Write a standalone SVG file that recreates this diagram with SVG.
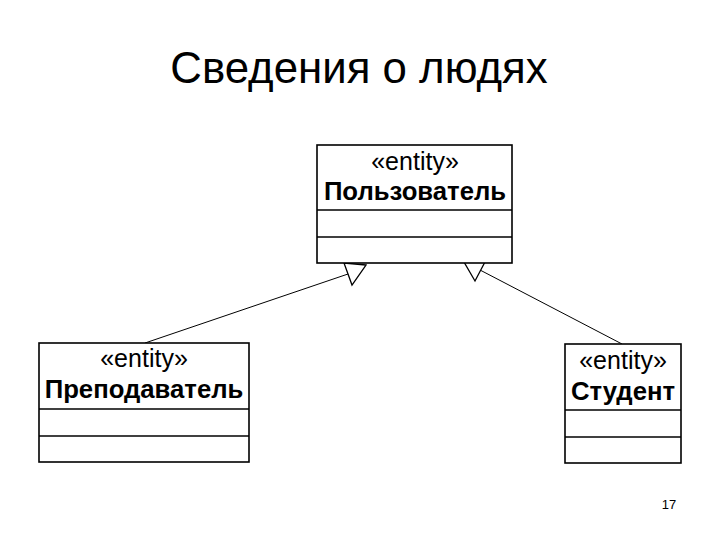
<svg xmlns="http://www.w3.org/2000/svg" width="720" height="540" viewBox="0 0 720 540">
<style>
.box{fill:#fff;stroke:#000;stroke-width:1.6}
.div{stroke:#000;stroke-width:1.6}
.st{font-family:"Liberation Sans",Arial,sans-serif;font-size:25px;text-anchor:middle}
.nm{font-family:"Liberation Sans",Arial,sans-serif;font-size:25.7px;font-weight:bold;text-anchor:middle}
.ln{stroke:#000;stroke-width:1;fill:none}
.hd{fill:#fff;stroke:#000;stroke-width:1.3}
</style>
<rect width="720" height="540" fill="#fff"/>
<text x="359" y="83" font-family="'Liberation Sans',Arial,sans-serif" font-size="43.8" text-anchor="middle">Сведения о людях</text>
<g id="connectors">
<line class="ln" x1="145" y1="343" x2="348" y2="274"/>
<polygon class="hd" points="366,265 344,263 352,285"/>
<line class="ln" x1="622" y1="344" x2="480" y2="270"/>
<polygon class="hd" points="464,262 486,260 475,281"/>
</g>
<g id="user">
<rect class="box" x="317" y="145" width="195" height="118"/>
<line class="div" x1="317" y1="210" x2="512" y2="210"/>
<line class="div" x1="317" y1="237" x2="512" y2="237"/>
<text class="st" x="415" y="170">«entity»</text>
<text class="nm" x="415" y="200">Пользователь</text>
</g>
<g id="teacher">
<rect class="box" x="39" y="343" width="210" height="119"/>
<line class="div" x1="39" y1="409" x2="249" y2="409"/>
<line class="div" x1="39" y1="436" x2="249" y2="436"/>
<text class="st" x="144" y="367">«entity»</text>
<text class="nm" x="144" y="398">Преподаватель</text>
</g>
<g id="student">
<rect class="box" x="565" y="344" width="116" height="119"/>
<line class="div" x1="565" y1="410" x2="681" y2="410"/>
<line class="div" x1="565" y1="437" x2="681" y2="437"/>
<text class="st" x="623" y="369">«entity»</text>
<text class="nm" x="623" y="400">Студент</text>
</g>
<text x="669" y="509" font-family="'Liberation Sans',Arial,sans-serif" font-size="13" text-anchor="middle">17</text>
</svg>
